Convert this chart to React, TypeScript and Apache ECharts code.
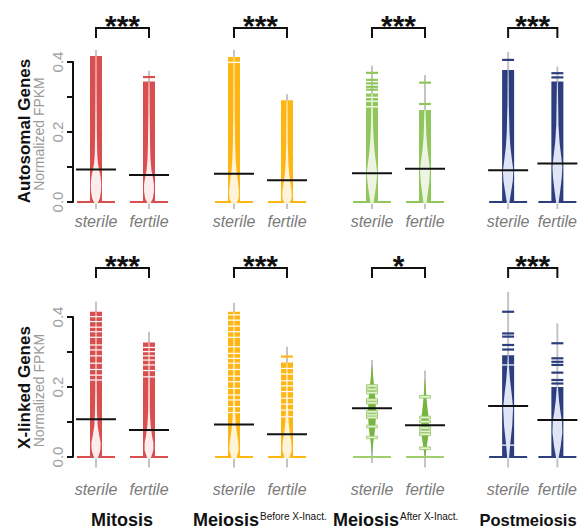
import React, { useEffect, useRef } from 'react';
import * as echarts from 'echarts';

const ROW_TITLES = ['Autosomal Genes', 'X-linked Genes'];
const Y_LABEL = 'Normalized FPKM';
const STAGES = ['Mitosis', 'Meiosis', 'Meiosis', 'Postmeiosis'];
const STAGE_SUPS = ['', 'Before X-Inact.', 'After X-Inact.', ''];
const GROUPS = ['sterile', 'fertile'];
const Y_TICK_LABELS: Record<string, string> = { '0': '0.0', '0.2': '0.2', '0.4': '0.4' };
const SIGNIF = ['***', '***', '***', '***', '***', '***', '*', '***'];

// bean order: row (autosomal, X-linked) -> stage -> group (sterile, fertile)
const MEDIANS = [0.093, 0.077, 0.081, 0.062, 0.082, 0.095, 0.091, 0.11,
  0.108, 0.077, 0.093, 0.065, 0.139, 0.091, 0.146, 0.106];
const RANGE_LO = [-0.02, -0.02, -0.02, -0.02, -0.02, -0.02, -0.02, -0.02,
  -0.03, -0.03, -0.03, -0.03, -0.017, -0.03, -0.03, -0.03];
const RANGE_HI = [0.434, 0.375, 0.434, 0.308, 0.389, 0.363, 0.429, 0.387,
  0.444, 0.358, 0.441, 0.315, 0.277, 0.247, 0.472, 0.382];
const BAND_TOP: (number | null)[] = [0.417, 0.344, 0.414, 0.291, 0.31, 0.263, 0.377, 0.344,
  0.415, 0.327, 0.415, 0.27, null, null, 0.291, 0.2];
const OUTLIERS: number[][] = [
  [], [0.357], [], [], [0.369, 0.349, 0.339, 0.329, 0.321], [0.341, 0.28], [0.406], [0.368, 0.356],
  [], [], [], [0.287],
  [0.203, 0.193, 0.184, 0.163, 0.155, 0.129, 0.12, 0.113, 0.087, 0.056],
  [0.172, 0.113, 0.101, 0.083, 0.073, 0.065, 0.025],
  [0.415, 0.353, 0.344, 0.32, 0.307],
  [0.325, 0.282, 0.272, 0.263, 0.241, 0.22, 0.21],
];
const GAPS: number[][] = [
  [], [], [0.399], [], [0.299, 0.288, 0.272], [], [], [],
  [0.401, 0.387, 0.371, 0.358, 0.342, 0.32, 0.306, 0.289, 0.268, 0.25, 0.234, 0.22],
  [0.313, 0.301, 0.289, 0.277, 0.263, 0.247, 0.229],
  [0.406, 0.391, 0.374, 0.358, 0.342, 0.315, 0.296, 0.282, 0.268, 0.25, 0.231, 0.215, 0.196, 0.177, 0.163, 0.144, 0.127],
  [0.253, 0.237, 0.218, 0.203, 0.187, 0.168, 0.151, 0.134, 0.115],
  [], [], [0.263, 0.034], [],
];
// relative density profile [value, density]
const DENSITY: [number, number][][] = [
  [[-0.005, 0.2], [0.01, 0.7], [0.03, 0.9], [0.05, 0.95], [0.07, 0.85], [0.09, 0.6], [0.11, 0.35], [0.14, 0.22], [0.2, 0.15], [0.3, 0.1], [0.417, 0.08]],
  [[-0.005, 0.2], [0.01, 0.7], [0.03, 0.9], [0.05, 0.9], [0.07, 0.7], [0.09, 0.45], [0.12, 0.28], [0.16, 0.2], [0.25, 0.12], [0.344, 0.08]],
  [[-0.005, 0.4], [0.01, 0.85], [0.03, 0.9], [0.06, 0.7], [0.09, 0.45], [0.12, 0.3], [0.17, 0.2], [0.25, 0.12], [0.414, 0.08]],
  [[-0.005, 0.4], [0.01, 0.85], [0.03, 0.85], [0.05, 0.65], [0.08, 0.4], [0.11, 0.25], [0.16, 0.15], [0.291, 0.08]],
  [[-0.005, 0.25], [0.03, 0.6], [0.06, 0.85], [0.085, 0.95], [0.11, 0.75], [0.14, 0.5], [0.18, 0.3], [0.22, 0.18], [0.31, 0.1]],
  [[-0.005, 0.25], [0.03, 0.55], [0.06, 0.8], [0.09, 0.9], [0.12, 0.7], [0.15, 0.45], [0.19, 0.25], [0.263, 0.1]],
  [[-0.005, 0.2], [0.03, 0.55], [0.06, 0.85], [0.09, 0.95], [0.12, 0.7], [0.16, 0.4], [0.2, 0.25], [0.28, 0.12], [0.377, 0.08]],
  [[-0.005, 0.2], [0.03, 0.5], [0.07, 0.8], [0.1, 0.9], [0.13, 0.7], [0.17, 0.4], [0.22, 0.2], [0.344, 0.08]],
  [[-0.005, 0.3], [0.02, 0.8], [0.04, 0.85], [0.06, 0.6], [0.09, 0.3], [0.13, 0.18], [0.2, 0.12], [0.415, 0.08]],
  [[-0.005, 0.3], [0.02, 0.8], [0.04, 0.8], [0.06, 0.55], [0.09, 0.3], [0.13, 0.15], [0.327, 0.08]],
  [[-0.005, 0.4], [0.02, 0.85], [0.04, 0.8], [0.07, 0.5], [0.1, 0.3], [0.15, 0.15], [0.415, 0.08]],
  [[-0.005, 0.4], [0.02, 0.85], [0.04, 0.8], [0.07, 0.5], [0.1, 0.3], [0.15, 0.15], [0.27, 0.08]],
  [[0.01, 0.05], [0.04, 0.2], [0.07, 0.45], [0.1, 0.6], [0.13, 0.65], [0.16, 0.6], [0.19, 0.45], [0.22, 0.25], [0.26, 0.05]],
  [[0.0, 0.05], [0.03, 0.3], [0.06, 0.55], [0.09, 0.65], [0.12, 0.55], [0.15, 0.35], [0.18, 0.2], [0.22, 0.05]],
  [[-0.005, 0.15], [0.04, 0.4], [0.09, 0.75], [0.14, 0.9], [0.18, 0.65], [0.22, 0.35], [0.26, 0.15], [0.291, 0.08]],
  [[-0.005, 0.2], [0.03, 0.6], [0.07, 0.9], [0.1, 0.85], [0.13, 0.55], [0.16, 0.3], [0.2, 0.1]],
];

// ---- styling / layout ----
const COLORS = ['#d94e4e', '#fdb614', '#8fc75d', '#2d3e7f'];
const TINTS = ['#fbeded', '#fff4d9', '#edf5e2', '#dfe5f5'];
const SPARSE_FILL = '#78b440';
const SPARSE_LINE = '#e3f0d3';
const GRAY = '#c4c4c4';
const STAGE_LEFT = [69.5, 207.5, 345.5, 483.5];
const ROW_TOP = [27, 282];
const GRID_H = 187.25;
const GRID_W = 106;
const Y_MIN = -0.035;
const Y_MAX = 0.5;
const BRACKET_V = [0.497, 0.54];
const FONT = 'Liberation Sans, Arial, sans-serif';

function makeRender(row: number, stage: number) {
  return (params: any, api: any) => {
    const cat = api.value(0);
    const b = api.value(2);
    const col = COLORS[stage];
    const tint = TINTS[stage];
    const c0 = api.coord([cat, 0]);
    const cx = c0[0];
    const py = (v: number) => api.coord([cat, v])[1];
    const ch: any[] = [];
    const rect = (x: number, y: number, w: number, h: number, style: any) =>
      ch.push({ type: 'rect', shape: { x, y, width: w, height: h }, style });
    rect(cx - 1, py(RANGE_HI[b]), 2, py(RANGE_LO[b]) - py(RANGE_HI[b]), { fill: GRAY });
    const top = BAND_TOP[b];
    const sparse = top === null;
    const W = sparse ? 6 : 5.5;
    const dens = DENSITY[b];
    const pts: number[][] = [];
    dens.forEach(([v, d]) => pts.push([cx - d * W, py(v)]));
    for (let i = dens.length - 1; i >= 0; i--) pts.push([cx + dens[i][1] * W, py(dens[i][0])]);
    if (!sparse) {
      rect(cx - 6, py(top as number), 12, py(0) - py(top as number), { fill: col });
      GAPS[b].forEach((g) => rect(cx - 6.5, py(g) - 0.6, 13, 1.2, { fill: '#ffffff' }));
      rect(cx - 19, py(0) - 1, 38, 2, { fill: col });
      ch.push({ type: 'polygon', shape: { points: pts }, style: { fill: tint } });
      OUTLIERS[b].forEach((o) => rect(cx - 6, py(o) - 1.1, 12, 2.2, { fill: col }));
    } else {
      ch.push({ type: 'polygon', shape: { points: pts }, style: { fill: SPARSE_FILL } });
      rect(cx - 19, py(0) - 1, 38, 2, { fill: '#9fd06c' });
      OUTLIERS[b].forEach((o) =>
        rect(cx - 5.5, py(o) - 1.3, 11, 2.6, { fill: SPARSE_LINE, stroke: col, lineWidth: 0.8 })
      );
    }
    ch.push({
      type: 'line',
      shape: { x1: cx - 20, y1: py(MEDIANS[b]), x2: cx + 20, y2: py(MEDIANS[b]) },
      style: { stroke: '#111', lineWidth: 2 },
    });
    if (cat === 1) {
      const xs = api.coord([0, 0])[0];
      const yb = py(BRACKET_V[row]);
      ch.push({
        type: 'polyline',
        shape: { points: [[xs, yb + 10], [xs, yb], [cx, yb], [cx, yb + 10]] },
        style: { stroke: '#111', lineWidth: 2, fill: null },
      });
      ch.push({
        type: 'text',
        x: (xs + cx) / 2,
        y: yb - 3,
        style: {
          text: SIGNIF[row * 4 + stage],
          fill: '#111',
          fontSize: 30,
          fontWeight: 'bold',
          fontFamily: FONT,
          align: 'center',
          verticalAlign: 'middle',
        },
      });
    }
    return { type: 'group', children: ch };
  };
}

export default function App() {
  const ref = useRef<HTMLDivElement>(null);
  useEffect(() => {
    if (!ref.current) return;
    const chart = echarts.init(ref.current, undefined, { renderer: 'svg' });
    const grid: any[] = [];
    const xAxis: any[] = [];
    const yAxis: any[] = [];
    const series: any[] = [];
    for (let r = 0; r < 2; r++) {
      for (let s = 0; s < 4; s++) {
        const k = r * 4 + s;
        grid.push({ left: STAGE_LEFT[s], top: ROW_TOP[r], width: GRID_W, height: GRID_H });
        xAxis.push({
          type: 'category',
          gridIndex: k,
          data: GROUPS,
          axisLine: { show: false },
          axisTick: { show: false },
          axisLabel: {
            interval: 0,
            hideOverlap: false,
            color: '#7a7a7a',
            fontStyle: 'italic',
            fontSize: 16,
            fontFamily: FONT,
            margin: r === 0 ? -1 : 12.5,
          },
        });
        yAxis.push({ type: 'value', gridIndex: k, min: Y_MIN, max: Y_MAX, show: false });
        series.push({
          type: 'custom',
          xAxisIndex: k,
          yAxisIndex: k,
          clip: false,
          silent: true,
          encode: { x: 0, y: 1 },
          data: GROUPS.map((g, gi) => [gi, MEDIANS[k * 2 + gi], k * 2 + gi]),
          renderItem: makeRender(r, s),
        });
      }
    }
    for (let r = 0; r < 2; r++) {
      const gi = grid.length;
      grid.push({ left: 73, top: ROW_TOP[r] + 35, width: 1, height: 140 });
      xAxis.push({ type: 'value', gridIndex: gi, show: false });
      yAxis.push({
        type: 'value',
        gridIndex: gi,
        min: 0,
        max: 0.4,
        interval: 0.1,
        splitLine: { show: false },
        axisLine: { show: true, lineStyle: { color: '#111', width: 2 } },
        axisTick: { show: true, length: 6, lineStyle: { color: '#111', width: 2 } },
        axisLabel: {
          rotate: 90,
          margin: 8,
          color: '#a0a0a0',
          fontSize: 15,
          fontFamily: FONT,
          formatter: (v: number) => Y_TICK_LABELS[String(Math.round(v * 10) / 10)] ?? '',
        },
      });
    }
    const graphic: any[] = [];
    const rowCenter = [131, 387.5];
    for (let r = 0; r < 2; r++) {
      graphic.push({
        type: 'text', x: 24, y: rowCenter[r], rotation: Math.PI / 2,
        style: { text: ROW_TITLES[r], fill: '#111', fontSize: 17, fontWeight: 'bold', fontFamily: FONT, align: 'center', verticalAlign: 'middle' },
      });
      graphic.push({
        type: 'text', x: 39, y: rowCenter[r] + 3, rotation: Math.PI / 2,
        style: { text: Y_LABEL, fill: '#9a9a9a', fontSize: 14, fontFamily: FONT, align: 'center', verticalAlign: 'middle' },
      });
    }
    const stageX = [122, 193, 333, 528];
    const stageAlign = ['center', 'left', 'left', 'center'];
    for (let s = 0; s < 4; s++) {
      graphic.push({
        type: 'text', x: stageX[s], y: 520,
        style: {
          text: STAGE_SUPS[s] ? `{a|${STAGES[s]}}{b|${STAGE_SUPS[s]}}` : `{a|${STAGES[s]}}`,
          fill: '#111',
          fontFamily: FONT,
          align: stageAlign[s],
          verticalAlign: 'middle',
          rich: {
            a: { fontSize: s === 3 ? 16.5 : 18, fontWeight: 'bold', fontFamily: FONT, fill: '#111', lineHeight: 20 },
            b: { fontSize: 10, fontFamily: FONT, fill: '#111', verticalAlign: 'top', padding: [1, 0, 0, 1] },
          },
        },
      });
    }
    chart.setOption({
      animation: false,
      backgroundColor: '#ffffff',
      grid,
      xAxis,
      yAxis,
      series,
      graphic,
    });
    return () => chart.dispose();
  }, []);
  return <div ref={ref} style={{ position: 'fixed', left: 0, top: 0, width: 582, height: 529 }} />;
}
